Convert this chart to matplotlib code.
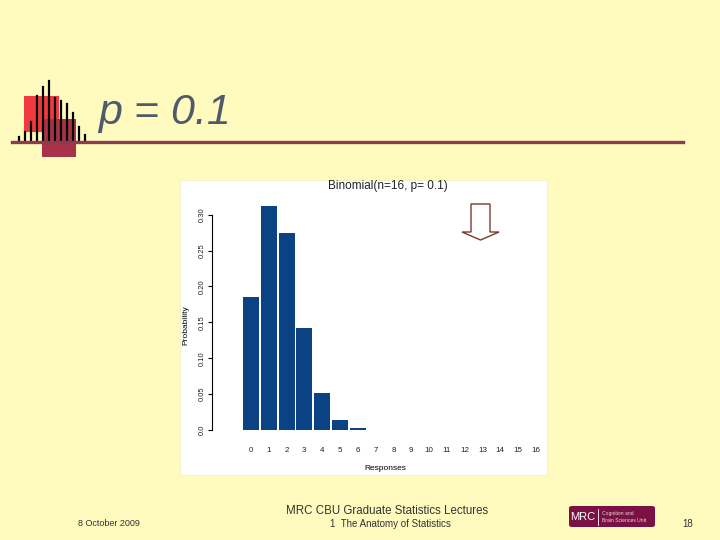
import numpy as np
import matplotlib
matplotlib.use("Agg")
import matplotlib.pyplot as plt
from matplotlib.patches import Rectangle, Polygon, FancyBboxPatch
from matplotlib.lines import Line2D

plt.rcParams['font.family'] = ['Liberation Sans', 'DejaVu Sans']

# -- data (binomial n=16, p=0.1)
responses = list(range(17))
probability = [0.185, 0.329, 0.275, 0.142, 0.051, 0.014, 0.003, 0.0004,
               0.0, 0.0, 0.0, 0.0, 0.0, 0.0, 0.0, 0.0, 0.0]
y_ticks = [0.0, 0.05, 0.10, 0.15, 0.20, 0.25, 0.30]
y_ticklabels = ['0.0', '0.05', '0.10', '0.15', '0.20', '0.25', '0.30']

# -- decorative logo spikes in the slide title (heights in px above the rule)
logo_spikes = [5, 10, 20, 46, 55, 61, 44, 41, 38, 29, 15, 7]

W, H = 720, 540
bg = '#FFFBBF'
bar_color = '#0B4283'


def fx(x):
    return x / W


def fy(y):
    return 1 - y / H


fig = plt.figure(figsize=(7.2, 5.4), dpi=100, facecolor=bg)

# slide header decoration
fig.add_artist(Rectangle((fx(24), fy(132)), 35 / W, 36 / H, transform=fig.transFigure,
                         facecolor='#F03A40', edgecolor='none'))
fig.add_artist(Rectangle((fx(42), fy(157)), 34 / W, 38 / H, transform=fig.transFigure,
                         facecolor='#A8324A', edgecolor='none'))
for i, h in enumerate(logo_spikes):
    x = 19 + 6 * i
    fig.add_artist(Line2D([fx(x), fx(x)], [fy(142), fy(142 - h)], transform=fig.transFigure,
                          color='black', lw=1.6))
fig.add_artist(Line2D([fx(12), fx(683)], [fy(142), fy(142)], transform=fig.transFigure,
                      color='#8C3B52', lw=2.4))
fig.text(fx(98), fy(124), 'p = 0.1', fontsize=31, style='italic', color='#4F5A6B',
         ha='left', va='baseline')

# white chart panel (behind the axes)
fig.add_artist(Rectangle((fx(180), fy(475)), 367 / W, 295 / H, transform=fig.transFigure,
                         facecolor='white', edgecolor='#F3EFC8', lw=0.8, zorder=-5))

# plot region
ax = fig.add_axes([fx(212), fy(438.6), (546.5 - 212) / W, (438.6 - 206) / H])
ax.set_zorder(3)
ax.set_facecolor('none')
ax.bar(responses, probability, width=0.9, color=bar_color)
ax.set_xlim(-2.19, 16.6)
ax.set_ylim(-0.012, 0.312)

for s in ['top', 'right', 'bottom']:
    ax.spines[s].set_visible(False)
ax.spines['left'].set_bounds(0, 0.30)
ax.spines['left'].set_linewidth(0.8)

ax.set_yticks(y_ticks)
ax.set_yticklabels(y_ticklabels, rotation=90, va='center', fontsize=5.5, color='#222222')
ax.tick_params(axis='y', length=3, width=0.8, pad=1.5)
ax.set_xticks(responses)
ax.set_xticklabels([str(r) for r in responses], fontsize=5.8, color='#222222')
ax.tick_params(axis='x', length=0, pad=6)

fig.text(fx(186), fy(325), 'Probability', rotation=90, fontsize=6, ha='center', va='center')
fig.text(fx(385), fy(469), 'Responses', fontsize=6, ha='center', va='center')
fig.text(fx(388), fy(186), 'Binomial(n=16, p= 0.1)', fontsize=8.5, color='#222222',
         ha='center', va='center')

# hollow arrow
arrow_px = [(471, 204), (490, 204), (490, 232), (499, 232), (480.5, 240),
            (462, 232), (471, 232)]
fig.add_artist(Polygon([(fx(x), fy(y)) for x, y in arrow_px], closed=True,
                       transform=fig.transFigure, facecolor='white',
                       edgecolor='#7A3B2E', lw=1.0, zorder=5))

# footer
fig.text(fx(109), fy(524), '8 October 2009', fontsize=6.5, color='#333333',
         ha='center', va='center')
fig.text(fx(387), fy(511), 'MRC CBU Graduate Statistics Lectures', fontsize=8.3,
         color='#333333', ha='center', va='center')
fig.text(fx(390), fy(524), '1  The Anatomy of Statistics', fontsize=7, color='#333333',
         ha='center', va='center')
fig.text(fx(688), fy(524), '18', fontsize=7, color='#333333', ha='center', va='center')

fig.add_artist(FancyBboxPatch((fx(569), fy(527)), 86 / W, 21 / H, transform=fig.transFigure,
                              boxstyle='round,pad=0,rounding_size=0.004',
                              facecolor='#7B1044', edgecolor='none'))
fig.text(fx(583), fy(517), 'MRC', fontsize=8, color='white', ha='center', va='center')
fig.add_artist(Line2D([fx(598), fx(598)], [fy(509), fy(525)], transform=fig.transFigure,
                      color='white', lw=0.6))
fig.text(fx(602), fy(513), 'Cognition and', fontsize=3.6, color='#F0D8E0', ha='left', va='center')
fig.text(fx(602), fy(521), 'Brain Sciences Unit', fontsize=3.6, color='#F0D8E0', ha='left', va='center')

fig.savefig('out.png', dpi=100, facecolor=bg)
